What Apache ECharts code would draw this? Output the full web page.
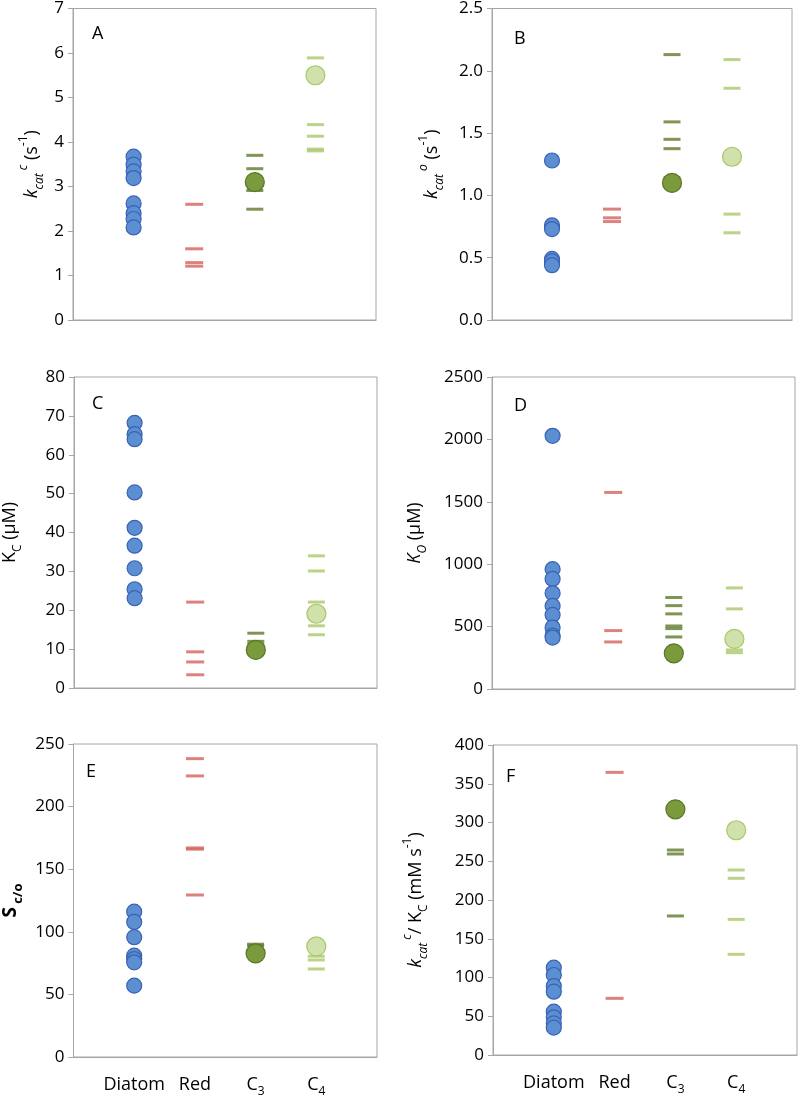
<!DOCTYPE html>
<html>
<head>
<meta charset="utf-8">
<title>Rubisco kinetics</title>
<script src="https://cdn.jsdelivr.net/npm/echarts@6/dist/echarts.min.js"></script>
<style>
    html, body {margin:0;padding:0;background:#fff;}
    #chart {width:800px;height:1098px;}
</style>
</head>
<body>
<div id="chart"></div>
<script>
// groups on the x axis (placed at 1..4)
var categories = ['Diatom', 'Red', 'C3', 'C4'];

// A: kcat c (s-1)
var kcatC_diatom = [3.67, 3.49, 3.34, 3.19, 2.62, 2.40, 2.27, 2.08];
var kcatC_red = [2.60, 1.60, 1.29, 1.21];
var kcatC_c3 = [3.70, 3.40, 2.91, 2.49];
var kcatC_c3Mean = [3.10];
var kcatC_c4 = [5.89, 4.39, 4.13, 3.84, 3.80];
var kcatC_c4Mean = [5.50];

// B: kcat o (s-1)
var kcatO_diatom = [1.28, 0.76, 0.73, 0.49, 0.47, 0.44];
var kcatO_red = [0.89, 0.82, 0.79];
var kcatO_c3 = [2.13, 1.59, 1.45, 1.375, 1.14];
var kcatO_c3Mean = [1.10];
var kcatO_c4 = [2.09, 1.86, 0.85, 0.70];
var kcatO_c4Mean = [1.31];

// C: Kc (uM)
var kc_diatom = [68.2, 65.3, 64.0, 50.3, 41.2, 36.6, 30.8, 25.4, 23.1];
var kc_red = [22.1, 9.3, 6.7, 3.4];
var kc_c3 = [14.1, 12.0, 11.2, 10.5];
var kc_c3Mean = [9.8];
var kc_c4 = [34.0, 30.1, 22.1, 16.0, 13.7];
var kc_c4Mean = [19.1];

// D: Ko (uM)
var ko_diatom = [2029, 960, 882, 767, 666, 594, 492, 428, 412];
var ko_red = [1575, 468, 377];
var ko_c3 = [733, 668, 602, 505, 484, 417];
var ko_c3Mean = [286];
var ko_c4 = [810, 642, 313, 291];
var ko_c4Mean = [401];

// E: Sc/o
var sco_diatom = [116.1, 107.9, 95.7, 80.9, 78.2, 75.6, 57.0];
var sco_red = [238.3, 224.5, 167.0, 166.0, 129.4];
var sco_c3 = [90.1, 88.8, 82.5];
var sco_c3Mean = [82.7];
var sco_c4 = [80.5, 77.5, 70.3];
var sco_c4Mean = [88.3];

// F: kcat c / Kc (mM s-1)
var eff_diatom = [112.7, 103.2, 89.0, 81.7, 55.9, 48.6, 40.9, 35.3];
var eff_red = [364.7, 73.1];
var eff_c3 = [264.5, 259.4, 179.4];
var eff_c3Mean = [317];
var eff_c4 = [238.7, 228.0, 175.0, 129.9];
var eff_c4Mean = [290];

// y axis ranges
var yMax = [7, 2.5, 80, 2500, 250, 400];
var yStep = [1, 0.5, 10, 500, 50, 50];
var panelLetters = ['A', 'B', 'C', 'D', 'E', 'F'];

var panels = [
    [kcatC_diatom, kcatC_red, kcatC_c3, kcatC_c3Mean, kcatC_c4, kcatC_c4Mean],
    [kcatO_diatom, kcatO_red, kcatO_c3, kcatO_c3Mean, kcatO_c4, kcatO_c4Mean],
    [kc_diatom, kc_red, kc_c3, kc_c3Mean, kc_c4, kc_c4Mean],
    [ko_diatom, ko_red, ko_c3, ko_c3Mean, ko_c4, ko_c4Mean],
    [sco_diatom, sco_red, sco_c3, sco_c3Mean, sco_c4, sco_c4Mean],
    [eff_diatom, eff_red, eff_c3, eff_c3Mean, eff_c4, eff_c4Mean]
];

var FONT = 'Open Sans';
var AXIS_GRAY = '#a6a6a6';

var grids = [
    {left: 73, top: 5, width: 303, height: 315},
    {left: 492, top: 5, width: 300, height: 315},
    {left: 73, top: 377, width: 304, height: 311},
    {left: 492, top: 377, width: 303, height: 312},
    {left: 73, top: 744, width: 304, height: 314},
    {left: 493, top: 745, width: 305, height: 310}
];

var letterPos = [[87, 20], [509, 25], [87, 390], [509, 392], [81, 758], [501, 763]];

var nameRich = {
    n: {fontSize: 18, fontFamily: FONT, color: '#000', lineHeight: 28},
    it: {fontSize: 18, fontFamily: FONT, color: '#000', fontStyle: 'italic', lineHeight: 28},
    isub: {fontSize: 12, fontFamily: FONT, color: '#000', fontStyle: 'italic', verticalAlign: 'bottom', lineHeight: 20},
    isup: {fontSize: 12, fontFamily: FONT, color: '#000', fontStyle: 'italic', verticalAlign: 'top', lineHeight: 18},
    sub: {fontSize: 12, fontFamily: FONT, color: '#000', verticalAlign: 'bottom', lineHeight: 20},
    sup: {fontSize: 12, fontFamily: FONT, color: '#000', verticalAlign: 'top', lineHeight: 18},
    b: {fontSize: 19, fontFamily: FONT, color: '#000', fontWeight: 'bold', lineHeight: 28},
    bsub: {fontSize: 13, fontFamily: FONT, color: '#000', fontWeight: 'bold', verticalAlign: 'bottom', lineHeight: 22}
};

var yNames = [
    '{it|k}{isub|cat}{isup| c}{n| (s}{sup|-1}{n|)}',
    '{it|k}{isub|cat}{isup| o}{n| (s}{sup|-1}{n|)}',
    '{n|K}{sub|C}{n| (μM)}',
    '{it|K}{isub|O}{n| (μM)}',
    '{b|S}{bsub| c/o}',
    '{it|k}{isub|cat}{isup| c}{n|/ K}{sub|C}{n| (mM s}{sup|-1}{n|)}'
];
var yNameGap = [27, 46, 50, 63, 49, 63];

var option = {
    animation: false,
    backgroundColor: '#fff',
    title: [],
    grid: [],
    xAxis: [],
    yAxis: [],
    series: []
};

for (var i = 0; i < 6; i++) {
    var g = grids[i];
    option.grid.push({
        left: g.left, top: g.top, width: g.width, height: g.height,
        show: true, borderColor: AXIS_GRAY, borderWidth: 1, containLabel: false
    });
    option.title.push({
        text: panelLetters[i], left: letterPos[i][0], top: letterPos[i][1],
        textStyle: {fontFamily: FONT, fontSize: 18, fontWeight: 'normal', color: '#000'}
    });
    var bottomRow = i >= 4;
    option.xAxis.push({
        type: 'value', gridIndex: i, min: 0, max: 5, interval: 1,
        axisLine: {show: true, lineStyle: {color: AXIS_GRAY}},
        axisTick: {show: false},
        splitLine: {show: false},
        axisLabel: {
            show: bottomRow, margin: 15, fontFamily: FONT, fontSize: 18, color: '#000',
            formatter: function (v) {
                var c = categories[v - 1];
                if (!c) return '';
                if (c === 'C3') return '{m|C}{s|3}';
                if (c === 'C4') return '{m|C}{s|4}';
                return '{m|' + c + '}';
            },
            rich: {
                m: {fontFamily: FONT, fontSize: 18, color: '#000', lineHeight: 26},
                s: {fontFamily: FONT, fontSize: 12, color: '#000', verticalAlign: 'bottom', lineHeight: 18}
            }
        }
    });
    var step = yStep[i];
    option.yAxis.push({
        type: 'value', gridIndex: i, min: 0, max: yMax[i], interval: step,
        axisLine: {show: true, lineStyle: {color: AXIS_GRAY}},
        axisTick: {show: true, inside: false, length: 5, lineStyle: {color: AXIS_GRAY}},
        splitLine: {show: false},
        axisLabel: {
            fontFamily: FONT, fontSize: 17, color: '#000', margin: 9,
            formatter: step < 1 ? function (v) { return v.toFixed(1); } : function (v) { return String(v); }
        },
        name: yNames[i],
        nameLocation: 'middle', nameRotate: 90, nameGap: yNameGap[i],
        nameTextStyle: {rich: nameRich}
    });

    var d = panels[i];
    var toPts = function (arr, x) { return arr.map(function (v) { return [x, v]; }); };
    // dashes first, circles on top
    option.series.push({
        type: 'scatter', xAxisIndex: i, yAxisIndex: i, data: toPts(d[1], 2),
        symbol: 'rect', symbolSize: [18, 3], itemStyle: {color: '#d6625c'}, z: 2
    });
    option.series.push({
        type: 'scatter', xAxisIndex: i, yAxisIndex: i, data: toPts(d[2], 3),
        symbol: 'rect', symbolSize: [17, 3], itemStyle: {color: '#5e7a2c'}, z: 2
    });
    option.series.push({
        type: 'scatter', xAxisIndex: i, yAxisIndex: i, data: toPts(d[4], 4),
        symbol: 'rect', symbolSize: [17, 3], itemStyle: {color: '#a9c86a'}, z: 2
    });
    option.series.push({
        type: 'scatter', xAxisIndex: i, yAxisIndex: i, data: toPts(d[0], 1),
        symbol: 'circle', symbolSize: 15,
        itemStyle: {color: '#5b8fd1', borderColor: '#3a62b5', borderWidth: 1.2, opacity: 1}, z: 3
    });
    option.series.push({
        type: 'scatter', xAxisIndex: i, yAxisIndex: i, data: toPts(d[3], 3),
        symbol: 'circle', symbolSize: 19,
        itemStyle: {color: '#7b9a3c', borderColor: '#5a7628', borderWidth: 1.2, opacity: 1}, z: 4
    });
    option.series.push({
        type: 'scatter', xAxisIndex: i, yAxisIndex: i, data: toPts(d[5], 4),
        symbol: 'circle', symbolSize: 19,
        itemStyle: {color: '#d0e1ac', borderColor: '#a9c86a', borderWidth: 1.2, opacity: 1}, z: 4
    });
}

var chart = echarts.init(document.getElementById('chart'), null, {renderer: 'canvas'});
chart.setOption(option);
</script>
</body>
</html>
